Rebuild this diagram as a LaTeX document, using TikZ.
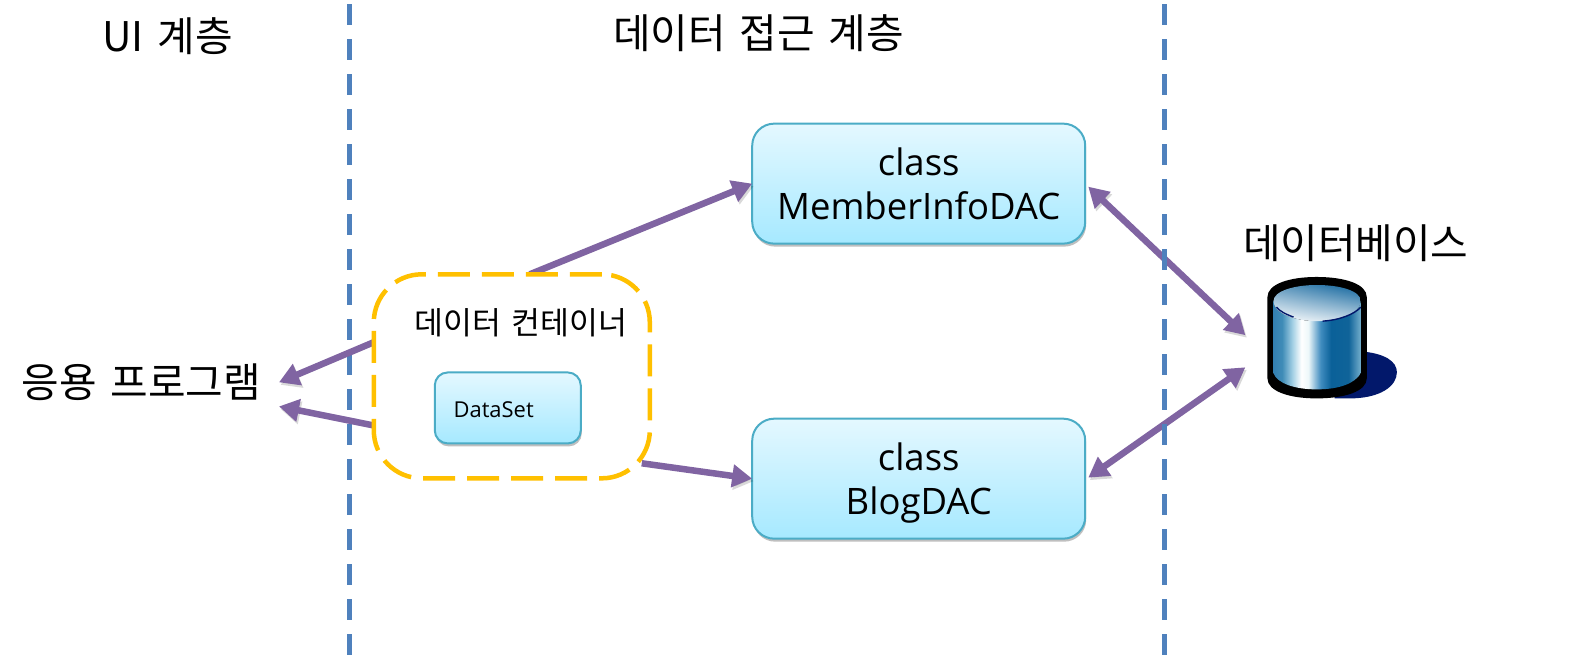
\documentclass[tikz,border=0pt]{standalone}
\usepackage{fontspec}
\setmainfont[WordSpace=1.5]{Noto Sans CJK KR}
\newfontfamily\latinf{Open Sans}
\usetikzlibrary{arrows.meta,shadows,calc,shadings}
\definecolor{purpleline}{HTML}{8064A2}
\definecolor{blueline}{HTML}{4F81BD}
\definecolor{yellowline}{HTML}{FFC000}
\definecolor{boxedge}{HTML}{4BACC6}
\definecolor{boxtop}{HTML}{E4F8FF}
\definecolor{boxbot}{HTML}{A6E9FF}
\definecolor{dbnavy}{HTML}{02186B}
\definecolor{dbblue}{HTML}{0E639C}
\pgfdeclarehorizontalshading{dbbody}{100bp}{
 rgb(0bp)=(0.20,0.50,0.70);
 rgb(25bp)=(0.20,0.50,0.70);
 rgb(30bp)=(0.25,0.55,0.72);
 rgb(36bp)=(0.65,0.82,0.90);
 rgb(41bp)=(1,1,1);
 rgb(45bp)=(0.93,0.97,0.98);
 rgb(52bp)=(0.25,0.55,0.75);
 rgb(58bp)=(0.04,0.38,0.60);
 rgb(68bp)=(0.06,0.39,0.60);
 rgb(75bp)=(0.45,0.68,0.80);
 rgb(100bp)=(0.45,0.68,0.80)}
\tikzset{
 every node/.style={inner sep=0bp,outer sep=0bp},
 lane/.style={blueline,line width=5bp,dash pattern=on 21bp off 14bp},
 label/.style={font=\fontsize{41}{49}\selectfont,text=black},
 dacbox/.style={draw=boxedge,line width=2bp,rounded corners=22bp,top color=boxtop,bottom color=boxbot,
   minimum width=333bp,minimum height=120bp,align=center,text depth=0bp,font=\latinf\fontsize{36.6}{44}\selectfont,
   drop shadow={shadow xshift=1bp,shadow yshift=-3bp,opacity=.25,fill=black}},
 setbox/.style={draw=boxedge,line width=2bp,rounded corners=13bp,top color=boxtop,bottom color=boxbot,
   minimum width=146bp,minimum height=71bp,
   drop shadow={shadow xshift=1bp,shadow yshift=-3bp,opacity=.25,fill=black}},
 container/.style={draw=yellowline,fill=white,line width=4.5bp,rounded corners=48bp,
   dash pattern=on 32bp off 12bp,minimum width=276bp,minimum height=204bp},
 arrowshadow/.style={preaction={draw=black,opacity=.15,transform canvas={shift={(1.5bp,-2.5bp)}}}},
 flow/.style={purpleline,line width=6.5bp,arrowshadow,-{Triangle[length=20bp,width=22bp]}},
 flowboth/.style={purpleline,line width=6.5bp,arrowshadow,{Triangle[length=20bp,width=22bp]}-{Triangle[length=20bp,width=22bp]}},
}
\begin{document}
\begin{tikzpicture}[x=1.0035bp,y=-1.0035bp]
\useasboundingbox (0,0) rectangle (1567.5,654.7);
\fill[white] (0,0) rectangle (1567.5,654.7);
% lanes
\coordinate (l1t) at (348,4); \coordinate (l1b) at (348,654);
\coordinate (l2t) at (1160,4); \coordinate (l2b) at (1160,654);
\draw[lane] (l1t) -- (l1b);
% titles
\node[label] (ui) at (167,36.5) {UI 계층};
\node[label] (dal) at (756,33) {데이터 접근 계층};
\node[label] (app) at (141,381) {응용 프로그램};
\node[label] (dbt) at (1351,242) {데이터베이스};
% boxes
\node[dacbox] (member) at (915.5,183) {class\\MemberInfoDAC};
\node[dacbox] (blog) at (915.5,477) {class\\BlogDAC};
% free ends
\coordinate (appa) at (278,381);
\coordinate (appb) at (278,405);
\coordinate (dba) at (1241,334);
\coordinate (dbb) at (1241,366);
% container
\node[minimum width=276bp,minimum height=204bp] (cont) at (510,375) {};
\draw[flow] ([xshift=18bp]cont.north) -- (member.west);
\draw[flow] ($(cont.south east)+(-8,-15)$) -- (blog.west);
\draw[flow] ($(cont.west)+(0,-34)$) -- (appa);
\draw[flow] ($(cont.west)+(0,49)$) -- (appb);
\draw[flowboth] ($(member.east)+(3,3)$) -- (dba);
\draw[flowboth] ($(blog.east)+(3,-1)$) -- (dbb);
\draw[lane] (l2t) -- (l2b);
\node[container] (contb) at (510,375) {};
\node[font=\fontsize{31.5}{38}\selectfont] (contl) at (519,322) {데이터 컨테이너};
\node[setbox] (ds) at (506,406.5) {};
\node[font=\latinf\fontsize{22}{26}\selectfont,anchor=west] (dsl) at (452,408) {DataSet};
% database
\fill[dbnavy] (1330,397) -- (1330,350) -- (1355,350) .. controls (1380,352) and (1392,360) .. (1392,371) .. controls (1392,385) and (1375,397) .. (1345,397) -- cycle;
\fill[black] (1263,296) .. controls (1263,283) and (1285,276) .. (1312,276) .. controls (1340,276) and (1362,283) .. (1362,296)
 -- (1362,377) .. controls (1362,390) and (1340,397) .. (1312,397) .. controls (1285,397) and (1263,390) .. (1263,377) -- cycle;
\begin{scope}
\clip (1269,300) .. controls (1269,312) and (1290,320) .. (1312,320) .. controls (1335,320) and (1356,312) .. (1356,300) -- (1356,372) .. controls (1350,382) and (1335,388) .. (1312,388) .. controls (1290,388) and (1273,382) .. (1269,372) -- cycle;
\shade[shading=dbbody] (1269,295) rectangle (1356,395);
\end{scope}
\begin{scope}
\clip (1312,284) .. controls (1336,284) and (1356,290) .. (1356,300) .. controls (1356,312) and (1335,320) .. (1312,320) .. controls (1290,320) and (1269,312) .. (1269,300) .. controls (1269,290) and (1290,284) .. (1312,284) -- cycle;
\shade[lower left=white,lower right=dbblue!25!white,upper left=dbblue!65!white,upper right=dbblue] (1269,284) rectangle (1356,320);
\end{scope}
\draw[dbnavy,line width=1.4bp] (1272,306) .. controls (1275,310) and (1281,313) .. (1289,316);
\draw[dbnavy,line width=1.4bp] (1318,320) .. controls (1335,319) and (1350,313) .. (1356,306);
\end{tikzpicture}
\end{document}
